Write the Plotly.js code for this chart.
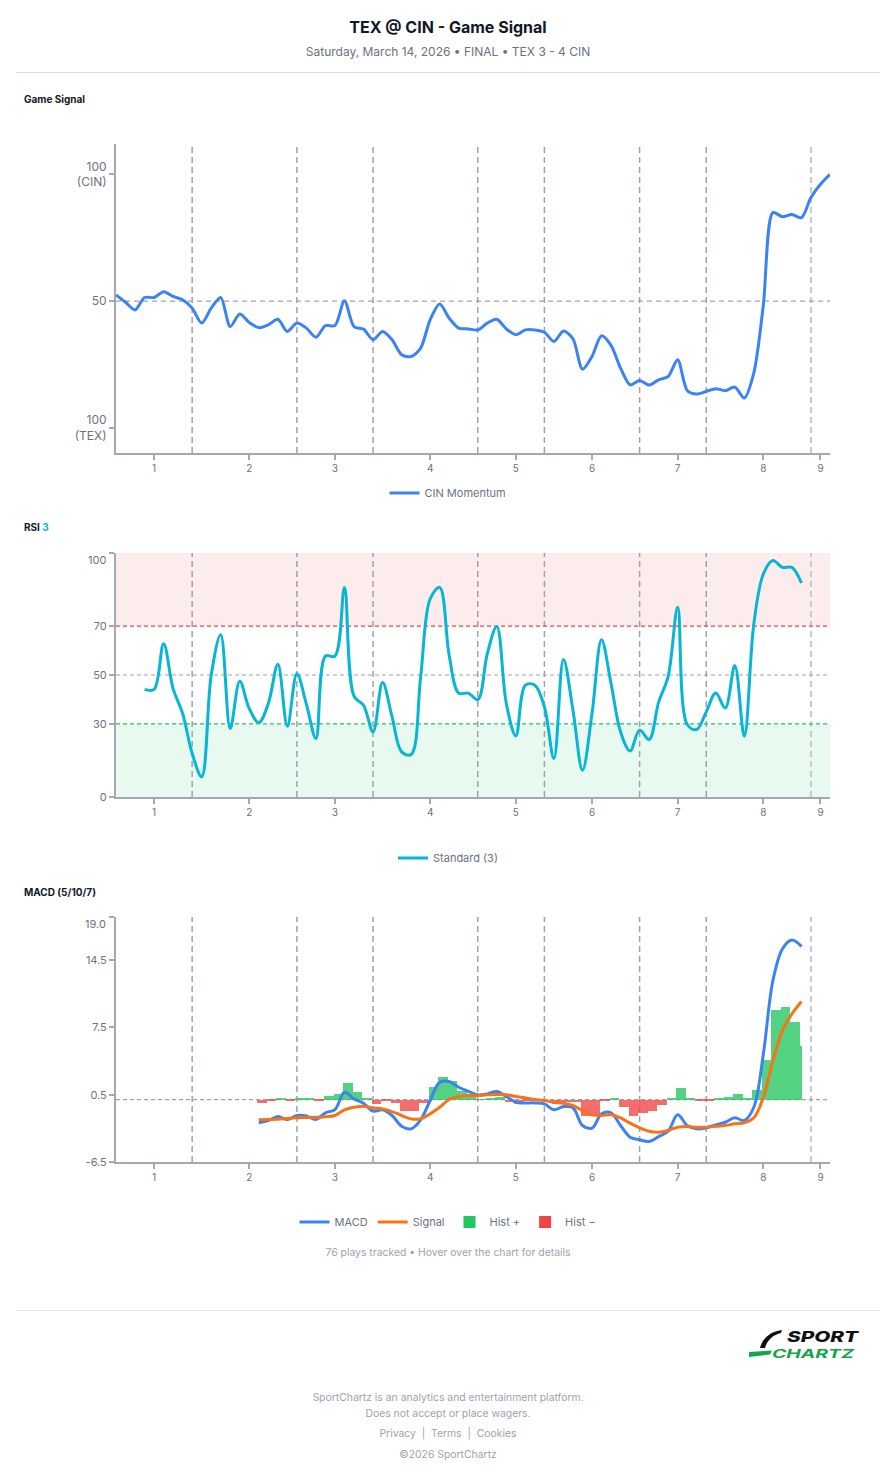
<!DOCTYPE html>
<html>
<head>
<meta charset="utf-8">
<title>TEX @ CIN - Game Signal</title>
<script src="https://cdn.plot.ly/plotly-3.0.1.min.js"></script>
<style>
  html, body { margin: 0; padding: 0; background: #ffffff; }
  body { font-family: Inter, "Open Sans", "Noto Sans", sans-serif; }
  #page { position: relative; width: 896px; height: 1480px; overflow: hidden; }
  .abs { position: absolute; }
  .center { left: 0; width: 896px; text-align: center; }
  .rule { position: absolute; left: 16px; width: 864px; height: 1px; background: #dcdfe4; }
  .panel-title { position: absolute; left: 24px; font-size: 10px; line-height: 14px; font-weight: 700; color: #111827; z-index: 5; pointer-events: none; }
  .chart { position: absolute; left: 0; width: 896px; }
  .foot { font-size: 10.4px; line-height: 14px; color: #9ca3af; }
</style>
</head>
<body>
<div id="page">
  <div class="abs center" style="top:17px;font-size:16px;line-height:20px;font-weight:700;color:#111827;">TEX @ CIN - Game Signal</div>
  <div class="abs center" style="top:44px;font-size:12px;line-height:16px;color:#6b7280;">Saturday, March 14, 2026 &bull; FINAL &bull; TEX 3 - 4 CIN</div>
  <div class="rule" style="top:72px;"></div>

  <div id="chartSignal" class="chart" style="top:110px;height:400px;"></div>
  <div id="chartRsi" class="chart" style="top:540px;height:340px;"></div>
  <div id="chartMacd" class="chart" style="top:905px;height:340px;"></div>

  <div class="panel-title" style="top:92px;">Game Signal</div>
  <div class="panel-title" style="top:520px;">RSI <span style="color:#06b6d4;">3</span></div>
  <div class="panel-title" style="top:885px;">MACD (5/10/7)</div>

  <div class="abs center foot" style="top:1246px;">76 plays tracked &bull; Hover over the chart for details</div>
  <div class="rule" style="top:1310px;background:#e5e7eb;"></div>

  <svg class="abs" style="left:745px;top:1320px;" width="125" height="44" viewBox="0 0 125 44">
    <path d="M15,28 C17,20 23,12 37,10 L36,13 C27,15 22,21 20,28 Z" fill="#111111"/>
    <polygon points="4,32 27,30.5 25,34.5 4,37" fill="#16a34a"/>
    <text x="42" y="21.5" font-family="Inter, 'Open Sans', sans-serif" font-style="italic" font-size="15" font-weight="800" fill="#111111" textLength="71" lengthAdjust="spacingAndGlyphs">SPORT</text>
    <text x="27" y="38" font-family="Inter, 'Open Sans', sans-serif" font-style="italic" font-size="12" font-weight="700" fill="#16a34a" textLength="82" lengthAdjust="spacingAndGlyphs">CHARTZ</text>
  </svg>

  <div class="abs center foot" style="top:1391px;">SportChartz is an analytics and entertainment platform.</div>
  <div class="abs center foot" style="top:1407px;">Does not accept or place wagers.</div>
  <div class="abs center foot" style="top:1427px;">Privacy &nbsp;|&nbsp; Terms &nbsp;|&nbsp; Cookies</div>
  <div class="abs center foot" style="top:1448px;">&copy;2026 SportChartz</div>
</div>

<script>
// Inning labels, their mid-play positions and the plays where each inning ends
const innings = ['1', '2', '3', '4', '5', '6', '7', '8', '9'];
const inningMid = [4, 14, 23, 33, 42, 50, 59, 68, 74];
const inningBreaks = [8, 19, 27, 38, 45, 55, 62, 73];

// CIN momentum per play (0 = TEX 100, 50 = even, 100 = CIN 100)
const momentum = [
  52.4, 49.5, 46.5, 51.4, 51.4, 53.7, 51.8, 50.5, 47.2, 41.3,
  47.2, 51.4, 39.9, 44.9, 41.5, 39.5, 40.6, 42.8, 38.0, 41.3,
  39.3, 35.7, 40.3, 40.3, 50.1, 39.9, 38.9, 34.7, 38.0, 34.7,
  28.8, 28.1, 31.4, 42.6, 48.8, 43.2, 39.3, 39.0, 38.6, 41.3,
  42.8, 39.0, 36.7, 38.6, 38.6, 37.7, 34.0, 38.2, 35.1, 23.1,
  28.1, 36.3, 32.5, 23.5, 16.9, 18.6, 16.8, 18.9, 20.2, 26.8,
  14.7, 13.3, 14.3, 15.4, 14.6, 16.0, 11.7, 21.6, 48.5, 84.9,
  83.3, 84.2, 82.9, 90.9, 96.1, 100
];

// RSI (3), first value at play 3
const rsiStart = 3;
const rsi = [
  44.1, 44.1, 62.8, 44.4, 34.2, 17.9, 8.3, 49.9, 66.5, 28.1,
  47.4, 36.2, 30.5, 38.3, 54.4, 29.0, 50.5, 38.0, 24.0, 57.7,
  57.7, 85.9, 41.3, 37.6, 26.7, 46.9, 32.8, 18.5, 17.4, 49.2,
  81.2, 85.9, 58.0, 42.6, 42.6, 39.9, 58.7, 69.9, 38.3, 25.1,
  45.8, 45.8, 36.9, 15.8, 56.4, 35.6, 11.0, 34.2, 64.4, 46.5,
  26.7, 18.9, 27.4, 23.6, 38.9, 49.4, 77.8, 29.7, 27.7, 34.9,
  42.6, 36.5, 53.9, 24.9, 71.0, 91.4, 96.9, 94.1, 94.1, 87.7
];

// MACD (5/10/7), first value at play 15
const macdStart = 15;
const macdLine = [
  -2.42, -2.18, -1.77, -2.08, -1.66, -1.70, -2.08, -1.38, -1.04, 0.76,
  0.07, -0.38, -1.21, -1.07, -1.66, -2.77, -3.05, -2.11, -0.10, 1.80,
  1.87, 1.28, 0.86, 0.49, 0.59, 0.83, 0.31, -0.28, -0.35, -0.35,
  -0.45, -1.07, -0.73, -0.86, -2.70, -2.98, -1.49, -1.38, -2.70, -3.92,
  -4.19, -4.37, -3.85, -3.30, -1.59, -2.70, -3.05, -2.94, -2.63, -2.36,
  -1.90, -2.18, -0.80, 4.75, 12.37, 15.67, 16.60, 15.94
];
const signalLine = [
  -2.11, -2.08, -2.05, -1.97, -1.90, -1.87, -1.85, -1.78, -1.66, -1.07,
  -0.80, -0.69, -0.87, -0.97, -1.25, -1.66, -2.01, -2.01, -1.49, -0.80,
  0.00, 0.31, 0.42, 0.42, 0.49, 0.52, 0.49, 0.31, 0.17, 0.00,
  -0.10, -0.28, -0.38, -0.62, -1.14, -1.59, -1.66, -1.59, -1.90, -2.46,
  -2.94, -3.30, -3.40, -3.22, -2.88, -2.81, -2.88, -2.88, -2.77, -2.70,
  -2.53, -2.42, -1.90, 0.24, 4.05, 7.17, 8.90, 10.20
];
const histogram = [
  -0.38, -0.10, 0.20, -0.05, 0.20, 0.10, -0.15, 0.35, 0.60, 1.70,
  0.75, 0.20, -0.50, -0.17, -0.38, -1.14, -1.14, -0.38, 1.28, 2.39,
  1.90, 0.94, 0.24, 0.05, 0.10, 0.24, -0.28, -0.50, -0.20, -0.15,
  -0.30, -0.50, -0.30, -0.30, -1.66, -1.66, -0.05, 0.10, -0.80, -1.66,
  -1.42, -1.14, -0.52, 0.10, 1.21, 0.17, -0.17, -0.08, 0.10, 0.24,
  0.59, 0.17, 1.00, 4.12, 9.32, 9.67, 8.10, 5.60
];

// ---- shared styling ----
const FONT = 'Inter, "Open Sans", "Noto Sans", sans-serif';
const AXIS_COLOR = '#a3a8b1';
const LABEL_COLOR = '#6b7280';
const GUIDE_COLOR = '#9ca3af';

const playsFrom = (start, arr) => arr.map((_, k) => start + k);

function xAxis() {
  return {
    range: [0, momentum.length - 1],
    tickvals: inningMid, ticktext: innings,
    showline: true, linecolor: AXIS_COLOR, linewidth: 2,
    ticks: 'outside', ticklen: 5, tickwidth: 1.5, tickcolor: AXIS_COLOR,
    showgrid: false, zeroline: false, fixedrange: true,
    tickfont: { size: 10, color: LABEL_COLOR }
  };
}
function yAxis(extra) {
  return Object.assign({
    showline: true, linecolor: AXIS_COLOR, linewidth: 2,
    ticks: 'outside', ticklen: 5, tickwidth: 1.5, tickcolor: AXIS_COLOR,
    showgrid: false, zeroline: false, fixedrange: true,
    tickfont: { size: 11, color: LABEL_COLOR }
  }, extra);
}
function inningLines() {
  return inningBreaks.map((b, k) => ({
    type: 'line', xref: 'x', yref: 'paper', x0: b, x1: b, y0: 0, y1: 1, layer: 'below',
    line: k === inningBreaks.length - 1
      ? { color: '#c6cad0', width: 2, dash: '6px,4px' }
      : { color: GUIDE_COLOR, width: 1.5, dash: '6px,4px' }
  }));
}
function hLine(y, color, dash) {
  return { type: 'line', xref: 'paper', x0: 0, x1: 1, yref: 'y', y0: y, y1: y, layer: 'below',
           line: { color: color, width: 1.2, dash: dash } };
}
function legend(y) {
  return { orientation: 'h', xref: 'container', yref: 'container', x: 0.5, xanchor: 'center',
           y: y, yanchor: 'middle', font: { size: 11, color: LABEL_COLOR }, bgcolor: 'rgba(0,0,0,0)' };
}
function topLabel(y, text) {
  return { xref: 'paper', x: 0, xanchor: 'right', xshift: -8, yref: 'y', y: y, yanchor: 'middle',
           yshift: -7, text: text, showarrow: false, font: { size: 11, color: LABEL_COLOR } };
}
const baseLayout = {
  font: { family: FONT, color: LABEL_COLOR },
  paper_bgcolor: 'rgba(0,0,0,0)', plot_bgcolor: 'rgba(0,0,0,0)',
  showlegend: true, hovermode: 'x', dragmode: false
};
const config = { displayModeBar: false, responsive: false };

// ---- Game Signal ----
Plotly.newPlot('chartSignal', [{
  type: 'scatter', mode: 'lines', name: 'CIN Momentum',
  x: playsFrom(0, momentum), y: momentum,
  line: { color: '#3b82f6', width: 3, shape: 'spline', smoothing: 0.8 },
  hovertemplate: 'Play %{x}<br>CIN Momentum: %{y:.1f}<extra></extra>'
}], Object.assign({}, baseLayout, {
  width: 896, height: 400,
  margin: { l: 116, r: 66, t: 34, b: 57 },
  xaxis: xAxis(),
  yaxis: yAxis({ range: [-10, 112], tickvals: [0, 50, 100],
                 ticktext: ['100<br>(TEX)', '50', '100<br>(CIN)'],
                 tickfont: { size: 12, color: LABEL_COLOR } }),
  shapes: inningLines().concat([hLine(50, GUIDE_COLOR, '5px,4px')]),
  legend: legend(0.0425)
}), config);

// ---- RSI ----
Plotly.newPlot('chartRsi', [{
  type: 'scatter', mode: 'lines', name: 'Standard (3)',
  x: playsFrom(rsiStart, rsi), y: rsi,
  line: { color: '#06b6d4', width: 3, shape: 'spline', smoothing: 1 },
  hovertemplate: 'Play %{x}<br>RSI: %{y:.1f}<extra></extra>'
}], Object.assign({}, baseLayout, {
  width: 896, height: 340,
  margin: { l: 116, r: 66, t: 13, b: 83 },
  xaxis: xAxis(),
  yaxis: yAxis({ range: [0, 100], tickvals: [0, 30, 50, 70, 100], ticktext: ['0', '30', '50', '70', ''] }),
  shapes: [
    { type: 'rect', xref: 'paper', x0: 0, x1: 1, yref: 'y', y0: 70, y1: 100, layer: 'below',
      fillcolor: 'rgba(239,68,68,0.10)', line: { width: 0 } },
    { type: 'rect', xref: 'paper', x0: 0, x1: 1, yref: 'y', y0: 0, y1: 30, layer: 'below',
      fillcolor: 'rgba(34,197,94,0.10)', line: { width: 0 } }
  ].concat(inningLines(), [
    hLine(70, '#ef4444', '4px,3px'),
    hLine(50, GUIDE_COLOR, '4px,3px'),
    hLine(30, '#22c55e', '4px,3px')
  ]),
  annotations: [topLabel(100, '100')],
  legend: legend(0.0647)
}), config);

// ---- MACD ----
const histX = playsFrom(macdStart, histogram);
const histWidth = histogram.map((_, k) => (k === histogram.length - 1 ? 0.25 : 1));
Plotly.newPlot('chartMacd', [
  { type: 'scatter', mode: 'lines', name: 'MACD', x: playsFrom(macdStart, macdLine), y: macdLine,
    line: { color: '#3b82f6', width: 3, shape: 'spline', smoothing: 1 },
    hovertemplate: 'MACD: %{y:.2f}<extra></extra>' },
  { type: 'scatter', mode: 'lines', name: 'Signal', x: playsFrom(macdStart, signalLine), y: signalLine,
    line: { color: '#f97316', width: 3, shape: 'spline', smoothing: 1 },
    hovertemplate: 'Signal: %{y:.2f}<extra></extra>' },
  { type: 'bar', name: 'Hist +', x: histX, y: histogram.map(v => (v > 0 ? v : null)),
    offset: -0.15, width: histWidth,
    marker: { color: '#22c55e', opacity: 0.78, line: { width: 0 } },
    hovertemplate: 'Hist: %{y:.2f}<extra></extra>' },
  { type: 'bar', name: 'Hist \u2212', x: histX, y: histogram.map(v => (v < 0 ? v : null)),
    offset: -0.15, width: histWidth,
    marker: { color: '#ef4444', opacity: 0.78, line: { width: 0 } },
    hovertemplate: 'Hist: %{y:.2f}<extra></extra>' }
], Object.assign({}, baseLayout, {
  width: 896, height: 340,
  margin: { l: 116, r: 66, t: 12, b: 83 },
  barmode: 'overlay', bargap: 0,
  xaxis: xAxis(),
  yaxis: yAxis({ range: [-6.5, 19], tickvals: [-6.5, 0.5, 7.5, 14.5, 19],
                 ticktext: ['-6.5', '0.5', '7.5', '14.5', ''] }),
  shapes: inningLines().concat([hLine(0, GUIDE_COLOR, '4px,3px')]),
  annotations: [topLabel(19, '19.0')],
  legend: legend(0.0676)
}), config);
</script>
</body>
</html>
